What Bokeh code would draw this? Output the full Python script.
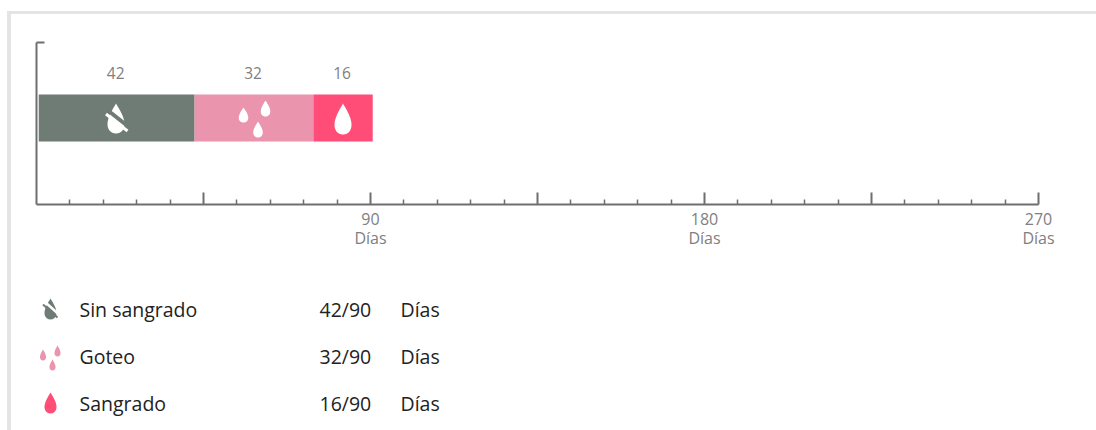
import numpy as np
from bokeh.embed import file_html
from bokeh.resources import INLINE
from bokeh.plotting import figure
from bokeh.layouts import column
from bokeh.models import ColumnDataSource, FixedTicker, Range1d, LinearAxis
from bokeh.core.properties import value
from bokeh.transform import dodge

categories = ["Sin sangrado", "Goteo", "Sangrado"]
days = [42, 32, 16]
total = 90
colors = ["#6f7b75", "#ea94ae", "#ff4d78"]
major_ticks = [45, 90, 135, 180, 225, 270]
minor_ticks = [9, 18, 27, 36, 54, 63, 72, 81, 99, 108, 117, 126, 144, 153, 162, 171,
               189, 198, 207, 216, 234, 243, 252, 261]
labelled_ticks = [90, 180, 270]
unit = "Días"

FONT = "Open Sans"
AXIS = "#6e6e6e"
LABEL = "#808080"
FRAME = "#e4e4e2"
X0, X1, Y0, Y1 = 36, 1038, 204, 42


def drop(cx, top, bottom, w):
    t = np.linspace(0, 2 * np.pi, 60)
    xs = np.sin(t) * np.sin(t / 2) ** 1.2
    ys = (1 - np.cos(t)) / 2
    xs = xs / np.abs(xs).max() * w / 2
    return cx + xs, top + (bottom - top) * ys


def draw_icon(p, tx, ty, geo, fg, bg):
    for d in geo.get("drops", []):
        x, y = drop(*d)
        p.patch(tx(x), ty(y), fill_color=fg, line_color=None)
    if "slash" in geo:
        (x0, y0), (x1, y1) = geo["slash"]
        g = geo["gap"]
        p.line(tx(np.array([x0 + 2, x1 + 2])), ty(np.array([y0 - g, y1 - g])), line_color=bg, line_width=geo["gw"])
        p.line(tx(np.array([x0, x1])), ty(np.array([y0, y1])), line_color=fg, line_width=geo["lw"])


# ---- top chart
lefts = list(np.cumsum([0] + days[:-1]))
rights = list(np.cumsum(days))
src = ColumnDataSource(dict(left=lefts, right=rights, color=colors,
                            mid=[(a + b) / 2 for a, b in zip(lefts, rights)],
                            label=[str(d) for d in days]))

p1 = figure(width=1085, height=250, output_backend="svg", toolbar_location=None,
            x_range=Range1d(0, 270), y_range=Range1d(0, Y0 - Y1),
            min_border_left=25, min_border_right=58, min_border_top=28, min_border_bottom=60,
            background_fill_color=None, border_fill_color=None, outline_line_color=None)
p1.grid.visible = False

BAR_Y, BAR_H = Y0 - 117.5, 47
p1.hbar(y=BAR_Y, left=dodge("left", 0.6), right=dodge("right", 0.6), height=BAR_H,
        fill_color="color", line_color=None, source=src)
p1.text(x=dodge("mid", 0.35), y=BAR_Y + 45, text="label", source=src, text_font=value(FONT), text_font_size="15.5px",
        text_color=LABEL, text_align="center", text_baseline="middle")

tx1 = lambda sx: (np.asarray(sx) - X0) / ((X1 - X0) / 270)
ty1 = lambda sy: Y0 - np.asarray(sy)
draw_icon(p1, tx1, ty1, dict(drops=[(115.5, 103, 133, 17)], slash=((105.5, 113.5), (127, 130.5)),
                             gap=3.5, gw=4, lw=3), "#ffffff", colors[0])
draw_icon(p1, tx1, ty1, dict(drops=[(243, 107, 122, 9.5), (265, 100, 116, 9.5), (257.5, 121, 137, 9.5)]),
          "#ffffff", colors[1])
draw_icon(p1, tx1, ty1, dict(drops=[(342.5, 103, 134, 17)]), "#ffffff", colors[2])

ax = p1.xaxis[0]
ax.ticker = FixedTicker(ticks=major_ticks, minor_ticks=minor_ticks)
ax.major_label_overrides = {t: (str(t) if t in labelled_ticks else "") for t in major_ticks}
ax.major_tick_in, ax.major_tick_out = 12, 0
ax.minor_tick_in, ax.minor_tick_out = 5, 0
ax.axis_line_color = ax.major_tick_line_color = ax.minor_tick_line_color = AXIS
ax.axis_line_width = 2
ax.major_tick_line_width = 2
ax.minor_tick_line_width = 1.5
ax.major_label_text_font = FONT
ax.major_label_text_font_size = "16px"
ax.major_label_text_color = LABEL
ax.major_label_standoff = 8
ax.major_label_orientation = "horizontal"

ax2 = LinearAxis(ticker=FixedTicker(ticks=labelled_ticks),
                 major_label_overrides={t: unit for t in labelled_ticks})
ax2.axis_line_color = None
ax2.major_tick_line_color = None
ax2.minor_tick_line_color = None
ax2.major_tick_in = ax2.major_tick_out = 0
ax2.minor_tick_in = ax2.minor_tick_out = 0
ax2.major_label_text_font = FONT
ax2.major_label_text_font_size = "16px"
ax2.major_label_text_color = LABEL
ax2.major_label_standoff = -1
ax2.major_label_orientation = "horizontal"
p1.add_layout(ax2, "below")

ay = p1.yaxis[0]
ay.ticker = FixedTicker(ticks=[Y0 - Y1])
ay.major_label_overrides = {Y0 - Y1: ""}
ay.major_tick_in, ay.major_tick_out = 8, 0
ay.minor_tick_line_color = None
ay.axis_line_color = ay.major_tick_line_color = AXIS
ay.axis_line_width = 2
ay.major_tick_line_width = 2
ay.major_label_text_font_size = "0px"

# ---- legend
p2 = figure(width=1085, height=166, output_backend="svg", toolbar_location=None,
            x_range=Range1d(X0, X1), y_range=Range1d(430, 264),
            min_border_left=25, min_border_right=58, min_border_top=0, min_border_bottom=0,
            background_fill_color=None, border_fill_color=None, outline_line_color=None)
p2.axis.visible = False
p2.grid.visible = False

rows_y = [308.5, 355.5, 402.5]
vals = [f"{d}/{total}" for d in days]
for x, txt in ((79, categories), (319, vals), (400, [unit] * 3)):
    p2.text(x=[x] * 3, y=rows_y, text=txt, text_font=value(FONT), text_font_size="19.5px", text_color="#222222",
            text_baseline="middle")

ident = lambda a: np.asarray(a)
draw_icon(p2, ident, ident, dict(drops=[(50, 298, 319, 12)], slash=((42.5, 304), (57, 317)),
                                 gap=2.5, gw=2.5, lw=2), colors[0], "#ffffff")
draw_icon(p2, ident, ident, dict(drops=[(42.5, 349, 360, 6), (57, 345, 356, 6), (52, 359, 370, 6)]),
          colors[1], "#ffffff")
draw_icon(p2, ident, ident, dict(drops=[(50, 392, 413, 12)]), colors[2], "#ffffff")

page = column(p1, p2, spacing=0,
              styles={"margin-top": "11px", "margin-left": "7px",
                      "border-top": f"3px solid {FRAME}", "border-left": f"4px solid {FRAME}"})

open("out.html", "w").write(file_html(page, INLINE))
